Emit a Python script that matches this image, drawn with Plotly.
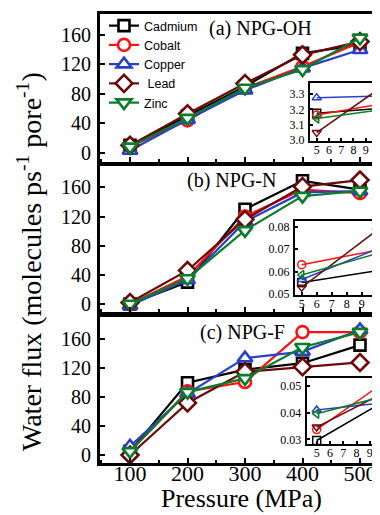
import plotly.graph_objects as go

pressure = [100, 200, 300, 400, 500]
metals = ["Cadmium", "Cobalt", "Copper", " Lead", "Zinc"]

# Panel (a) NPG-OH
cad_a = [10, 50, 90, 135, 147]
cob_a = [8, 44, 88, 117, 150]
cop_a = [3, 45, 85, 115, 140]
lead_a = [10, 53, 94, 133, 151]
zinc_a = [8, 47, 88, 113, 156]

# Panel (b) NPG-N
cad_b = [0, 30, 130, 169, 157]
cob_b = [0, 38, 120, 157, 152]
cop_b = [-2, 33, 113, 153, 155]
lead_b = [2, 46, 116, 161, 170]
zinc_b = [0, 35, 101, 148, 155]

# Panel (c) NPG-F
cad_c = [5, 100, 118, 127, 152]
cob_c = [5, 88, 101, 170, 170]
cop_c = [12, 85, 134, 143, 173]
lead_c = [0, 72, 115, 122, 128]
zinc_c = [5, 87, 106, 149, 170]

# Insets
ins_x = [5, 10]
ins_a = {"cad": [3.175, 3.205], "cob": [3.163, 3.232], "cop": [3.277, 3.287],
         "lead": [3.048, 3.33], "zinc": [3.14, 3.195]}
ins_b = {"cad": [0.0552, 0.0604], "cob": [0.0631, 0.0695], "cop": [0.0565, 0.0700],
         "lead": [0.0530, 0.0783], "zinc": [0.0585, 0.0680]}
ins_c = {"cad": [0.0296, 0.0440], "cob": [0.0337, 0.0510], "cop": [0.0410, 0.0437],
         "lead": [0.0346, 0.0472], "zinc": [0.0396, 0.0460]}

keys = ["cad", "cob", "cop", "lead", "zinc"]
colors = ["#000000", "#ff1111", "#2a3fc8", "#6a0a0a", "#0a7d2a"]
main_sym = ["square", "circle", "triangle-up", "diamond", "triangle-down"]
main_size = [11, 12, 13, 13, 13]
ins_sym = ["square-open", "circle-open", "triangle-up-open", "triangle-down-open", "triangle-left-open"]

panels = [
    ([cad_a, cob_a, cop_a, lead_a, zinc_a], "x", "y"),
    ([cad_b, cob_b, cop_b, lead_b, zinc_b], "x2", "y2"),
    ([cad_c, cob_c, cop_c, lead_c, zinc_c], "x3", "y3"),
]

fig = go.Figure()
for pi, (series, xa, ya) in enumerate(panels):
    for i, vals in enumerate(series):
        fig.add_trace(go.Scatter(
            x=pressure, y=vals, xaxis=xa, yaxis=ya, name=metals[i],
            mode="lines+markers", showlegend=(pi == 0),
            line=dict(color=colors[i], width=2.2),
            marker=dict(symbol=main_sym[i], size=main_size[i], color="white",
                        line=dict(color=colors[i], width=2.6)),
        ))

for ins, xa, ya in [(ins_a, "x4", "y4"), (ins_b, "x5", "y5"), (ins_c, "x6", "y6")]:
    for i, k in enumerate(keys):
        fig.add_trace(go.Scatter(
            x=ins_x, y=ins[k], xaxis=xa, yaxis=ya, mode="lines+markers",
            showlegend=False, line=dict(color=colors[i], width=1.5),
            marker=dict(symbol=ins_sym[i], size=8, color=colors[i],
                        line=dict(color=colors[i], width=1.5)),
        ))

serif = "Liberation Serif"
OFF = 8  # page body margin
H = 449.0
B = 463.0


def py(px):
    return (B - px) / H


def px_x(px):
    return (px - 100) / 280.0


main_dom = [[py(162), 1.0], [py(312), py(166)], [0.0, py(317)]]
main_yr = [[-12.6, 188.5], [-11, 189.3], [-11.1, 190.9]]

layout = dict(
    width=380 - OFF, height=515 - OFF,
    margin=dict(l=100 - OFF, r=0, t=14 - OFF, b=515 - 463, autoexpand=False),
    paper_bgcolor="white", plot_bgcolor="rgba(0,0,0,0)",
    font=dict(family=serif, color="black"),
    showlegend=True,
    legend=dict(x=px_x(104), y=py(11), xanchor="left", yanchor="top",
                bgcolor="rgba(0,0,0,0)", font=dict(family="Liberation Sans", size=12.5),
                itemwidth=30, tracegroupgap=0),
)

for j in range(3):
    sx = "" if j == 0 else str(j + 1)
    layout["xaxis" + sx] = dict(
        domain=[0, 1], anchor="y" + sx, range=[47.8, 534.8],
        showline=True, linewidth=3, linecolor="black", mirror=True,
        ticks="inside", ticklen=5, tickwidth=2, tickcolor="black",
        tickvals=pressure, showticklabels=(j == 2),
        tickfont=dict(family=serif, size=22), ticklabelstandoff=-11,
        minor=dict(dtick=50, tick0=0, ticks="inside", ticklen=3, tickwidth=2, tickcolor="black"),
        showgrid=False, zeroline=False, automargin=False,
    )
    layout["yaxis" + sx] = dict(
        domain=main_dom[j], anchor="x" + sx, range=main_yr[j],
        showline=True, linewidth=3, linecolor="black", mirror=False,
        ticks="inside", ticklen=5, tickwidth=2, tickcolor="black",
        tickvals=[0, 40, 80, 120, 160], tickfont=dict(family=serif, size=20),
        ticklabelstandoff=2,
        showgrid=False, zeroline=False, automargin=False,
    )

insets = [
    (4, [px_x(310), 1.0], [py(140.7), py(82.7)], [4.453, 10.163], [2.995, 3.375], [3.0, 3.1, 3.2, 3.3], ".1f"),
    (5, [px_x(295), 1.0], [py(295), py(221)], [4.553, 10.22], [0.0496, 0.0825], [0.05, 0.06, 0.07, 0.08], ".2f"),
    (6, [px_x(306.7), 1.0], [py(444), py(378.3)], [4.248, 9.77], [0.0283, 0.0528], [0.03, 0.04, 0.05], ".2f"),
]
for n, xd, yd, xr, yr, yt, fmt in insets:
    layout["xaxis%d" % n] = dict(
        domain=xd, anchor="y%d" % n, range=xr,
        showline=True, linewidth=2, linecolor="black", mirror=True,
        ticks="inside", ticklen=3, tickwidth=1.5, tickcolor="black",
        tickvals=[5, 6, 7, 8, 9, 10], tickfont=dict(family=serif, size=12),
        ticklabelstandoff=-3,
        showgrid=False, zeroline=False, automargin=False,
    )
    layout["yaxis%d" % n] = dict(
        domain=yd, anchor="x%d" % n, range=yr,
        showline=True, linewidth=2, linecolor="black", mirror=False,
        ticks="inside", ticklen=3, tickwidth=1.5, tickcolor="black",
        tickvals=yt, tickformat=fmt, tickfont=dict(family=serif, size=12),
        ticklabelstandoff=1,
        showgrid=False, zeroline=False, automargin=False,
    )

fig.update_layout(**layout)

ann = [
    dict(text="(a) NPG-OH", x=px_x(260), y=py(29), size=20),
    dict(text="(b) NPG-N", x=px_x(231.5), y=py(180), size=20),
    dict(text="(c) NPG-F", x=px_x(242), y=py(332.7), size=20),
]
for a in ann:
    fig.add_annotation(text=a["text"], x=a["x"], y=a["y"], xref="paper", yref="paper",
                       xanchor="center", yanchor="middle", showarrow=False,
                       font=dict(family=serif, size=a["size"], color="black"))

fig.add_annotation(text="Water flux (molecules ps<sup>-1</sup> pore<sup>-1</sup>)",
                   x=px_x(30), y=py(262), xref="paper", yref="paper",
                   xanchor="center", yanchor="middle", textangle=-90, showarrow=False,
                   font=dict(family=serif, size=28, color="black"))
fig.add_annotation(text="Pressure (MPa)", x=px_x(241), y=py(515), xref="paper", yref="paper",
                   xanchor="center", yanchor="bottom", showarrow=False,
                   font=dict(family=serif, size=26, color="black"))

fig.write_html("out.html")
